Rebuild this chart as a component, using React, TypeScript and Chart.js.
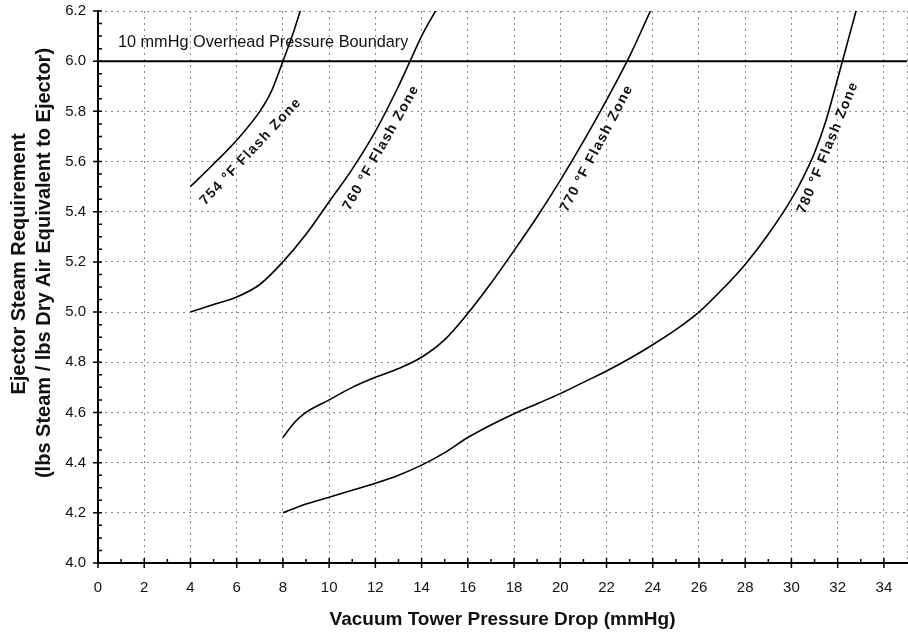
import React, { useEffect, useRef } from "react";
import { Chart, registerables } from "chart.js";
Chart.register(...registerables);

// ---- Data ----
const x754 = [4, 5, 6, 7, 7.5, 8, 8.4, 8.75];
const y754 = [5.5, 5.59, 5.685, 5.8, 5.88, 6.0, 6.1, 6.2];

const x760 = [4, 5, 6, 7, 8, 9, 10, 11, 12, 13, 13.5, 14, 14.6];
const y760 = [5.0, 5.03, 5.06, 5.11, 5.2, 5.31, 5.44, 5.57, 5.72, 5.9, 6.0, 6.1, 6.2];

const x770 = [8, 8.5, 9, 10, 11, 12, 13, 14, 15, 16, 17, 18, 19, 20, 21, 22, 23, 23.9];
const y770 = [4.5, 4.56, 4.6, 4.65, 4.7, 4.74, 4.775, 4.82, 4.89, 4.995, 5.115, 5.245, 5.38, 5.525, 5.68, 5.845, 6.02, 6.2];

const x780 = [8, 9, 10, 11, 12, 13, 14, 15, 16, 17, 18, 19, 20, 21, 22, 23, 24, 25, 26, 27, 28, 29, 30, 30.5, 31, 31.5, 32, 32.5, 32.9];
const y780 = [4.2, 4.235, 4.262, 4.29, 4.318, 4.35, 4.39, 4.44, 4.5, 4.55, 4.595, 4.635, 4.675, 4.72, 4.765, 4.815, 4.87, 4.93, 5.0, 5.09, 5.19, 5.31, 5.45, 5.535, 5.635, 5.765, 5.93, 6.1, 6.235];

const boundaryX = [0, 35];
const boundaryY = [6.0, 6.0];
const boundaryText = "10 mmHg Overhead Pressure Boundary";
const boundaryTextAt = [0.86, 6.076];

const curveLabels = ["754 °F Flash Zone", "760 °F Flash Zone", "770 °F Flash Zone", "780 °F Flash Zone"];
const curveLabelX = [6.61, 12.25, 21.58, 31.58];
const curveLabelY = [5.64, 5.656, 5.653, 5.656];
const curveLabelAngle = [-46.9, -60.5, -62.2, -67.8];

const xMin = 0, xMax = 35, xStep = 2;
const yMin = 4.0, yMax = 6.2, yStep = 0.2;
const xTickValues = [0, 2, 4, 6, 8, 10, 12, 14, 16, 18, 20, 22, 24, 26, 28, 30, 32, 34, 35];
const yTickValues = [4.0, 4.2, 4.4, 4.6, 4.8, 5.0, 5.2, 5.4, 5.6, 5.8, 6.0, 6.2];

const xTitle = "Vacuum Tower Pressure Drop (mmHg)";
const yTitle1 = "Ejector Steam Requirement";
const yTitle2 = "(lbs Steam / lbs Dry Air Equivalent to Ejector)";

const FONT = '"Liberation Sans", Arial, sans-serif';

const pts = (xs: number[], ys: number[]) => xs.map((x, i) => ({ x, y: ys[i] }));

const decorPlugin = {
  id: "decor",
  afterDraw(chart: any) {
    const { ctx, chartArea, scales } = chart;
    const xs = scales.x, ys = scales.y;
    ctx.save();
    // tick marks
    ctx.strokeStyle = "#000";
    ctx.lineWidth = 1.5;
    ctx.beginPath();
    for (let v = xMin; v <= 34 + 1e-9; v += 1) {
      const px = xs.getPixelForValue(v);
      const major = Math.round(v) % 2 === 0;
      if (major) {
        ctx.moveTo(px, chartArea.bottom - 5);
        ctx.lineTo(px, chartArea.bottom + 5);
      } else {
        ctx.moveTo(px, chartArea.bottom - 4);
        ctx.lineTo(px, chartArea.bottom);
      }
    }
    for (let k = 0; k <= 44; k++) {
      const v = yMin + k * 0.05;
      const py = ys.getPixelForValue(v);
      if (k % 4 === 0) {
        ctx.moveTo(chartArea.left - 5, py);
        ctx.lineTo(chartArea.left + 4, py);
      } else {
        ctx.moveTo(chartArea.left, py);
        ctx.lineTo(chartArea.left + 4, py);
      }
    }
    ctx.stroke();

    // boundary text
    ctx.fillStyle = "#111";
    ctx.font = `16.3px ${FONT}`;
    ctx.textAlign = "left";
    ctx.textBaseline = "middle";
    ctx.fillText(boundaryText, xs.getPixelForValue(boundaryTextAt[0]), ys.getPixelForValue(boundaryTextAt[1]));

    // curve labels
    ctx.font = `bold 14px ${FONT}`;
    (ctx as any).letterSpacing = "1.3px";
    ctx.textAlign = "center";
    for (let i = 0; i < curveLabels.length; i++) {
      ctx.save();
      ctx.translate(xs.getPixelForValue(curveLabelX[i]), ys.getPixelForValue(curveLabelY[i]));
      ctx.rotate((curveLabelAngle[i] * Math.PI) / 180);
      ctx.fillText(curveLabels[i], 0, 0);
      ctx.restore();
    }
    (ctx as any).letterSpacing = "0px";

    // axis titles
    ctx.font = `bold 19px ${FONT}`;
    ctx.textAlign = "center";
    ctx.textBaseline = "middle";
    ctx.fillText(xTitle, (chartArea.left + chartArea.right) / 2, 620);
    ctx.font = `bold 20px ${FONT}`;
    ctx.save();
    ctx.translate(19, 264);
    ctx.rotate(-Math.PI / 2);
    ctx.fillText(yTitle1, 0, 0);
    ctx.restore();
    ctx.save();
    ctx.translate(44, 263);
    ctx.rotate(-Math.PI / 2);
    ctx.fillText(yTitle2, 0, 0);
    ctx.restore();
    ctx.restore();
  },
};

export default function App() {
  const ref = useRef<HTMLCanvasElement | null>(null);
  useEffect(() => {
    if (!ref.current) return;
    const curve = (xs: number[], ys: number[]) => ({
      data: pts(xs, ys),
      borderColor: "#000",
      borderWidth: 1.6,
      pointRadius: 0,
      fill: false,
      cubicInterpolationMode: "monotone" as const,
    });
    const chart = new Chart(ref.current, {
      type: "line",
      data: {
        datasets: [
          { data: pts(boundaryX, boundaryY), borderColor: "#000", borderWidth: 2, pointRadius: 0, fill: false },
          curve(x754, y754),
          curve(x760, y760),
          curve(x770, y770),
          curve(x780, y780),
        ] as any,
      },
      options: {
        animation: false,
        responsive: false,
        layout: { padding: { top: 11, left: 0, right: 1, bottom: 0 } },
        plugins: { legend: { display: false }, tooltip: { enabled: false } },
        scales: {
          x: {
            type: "linear",
            min: xMin,
            max: xMax,
            afterBuildTicks: (s: any) => { s.ticks = xTickValues.map((v) => ({ value: v })); },
            ticks: {
              stepSize: xStep,
              padding: 0,
              color: "#111",
              font: { family: FONT, size: 15 },
              maxRotation: 0,
              autoSkip: false,
              callback: (v: any) => (v === 35 ? "" : String(v)),
            },
            grid: { color: "#8a8a8a", lineWidth: 1, drawTicks: true, tickLength: 16, tickColor: "rgba(0,0,0,0)" },
            border: { display: true, color: "#000", width: 2, dash: [2, 4] },
            afterFit: (s: any) => { s.height = 74; },
          },
          y: {
            type: "linear",
            min: yMin,
            max: yMax,
            afterBuildTicks: (s: any) => { s.ticks = yTickValues.map((v) => ({ value: v })); },
            ticks: {
              stepSize: yStep,
              padding: 0,
              color: "#111",
              font: { family: FONT, size: 15 },
              autoSkip: false,
              callback: (v: any) => Number(v).toFixed(1),
            },
            grid: { color: "#8a8a8a", lineWidth: 1, drawTicks: true, tickLength: 12, tickColor: "rgba(0,0,0,0)" },
            border: { display: true, color: "#000", width: 2, dash: [2, 4] },
            afterFit: (s: any) => { s.width = 98; },
          },
        },
      },
      plugins: [decorPlugin],
    });
    return () => chart.destroy();
  }, []);
  return (
    <div style={{ position: "absolute", left: 0, top: 0, width: 908, height: 637, background: "#fff" }}>
      <canvas ref={ref} width={908} height={637} />
    </div>
  );
}
